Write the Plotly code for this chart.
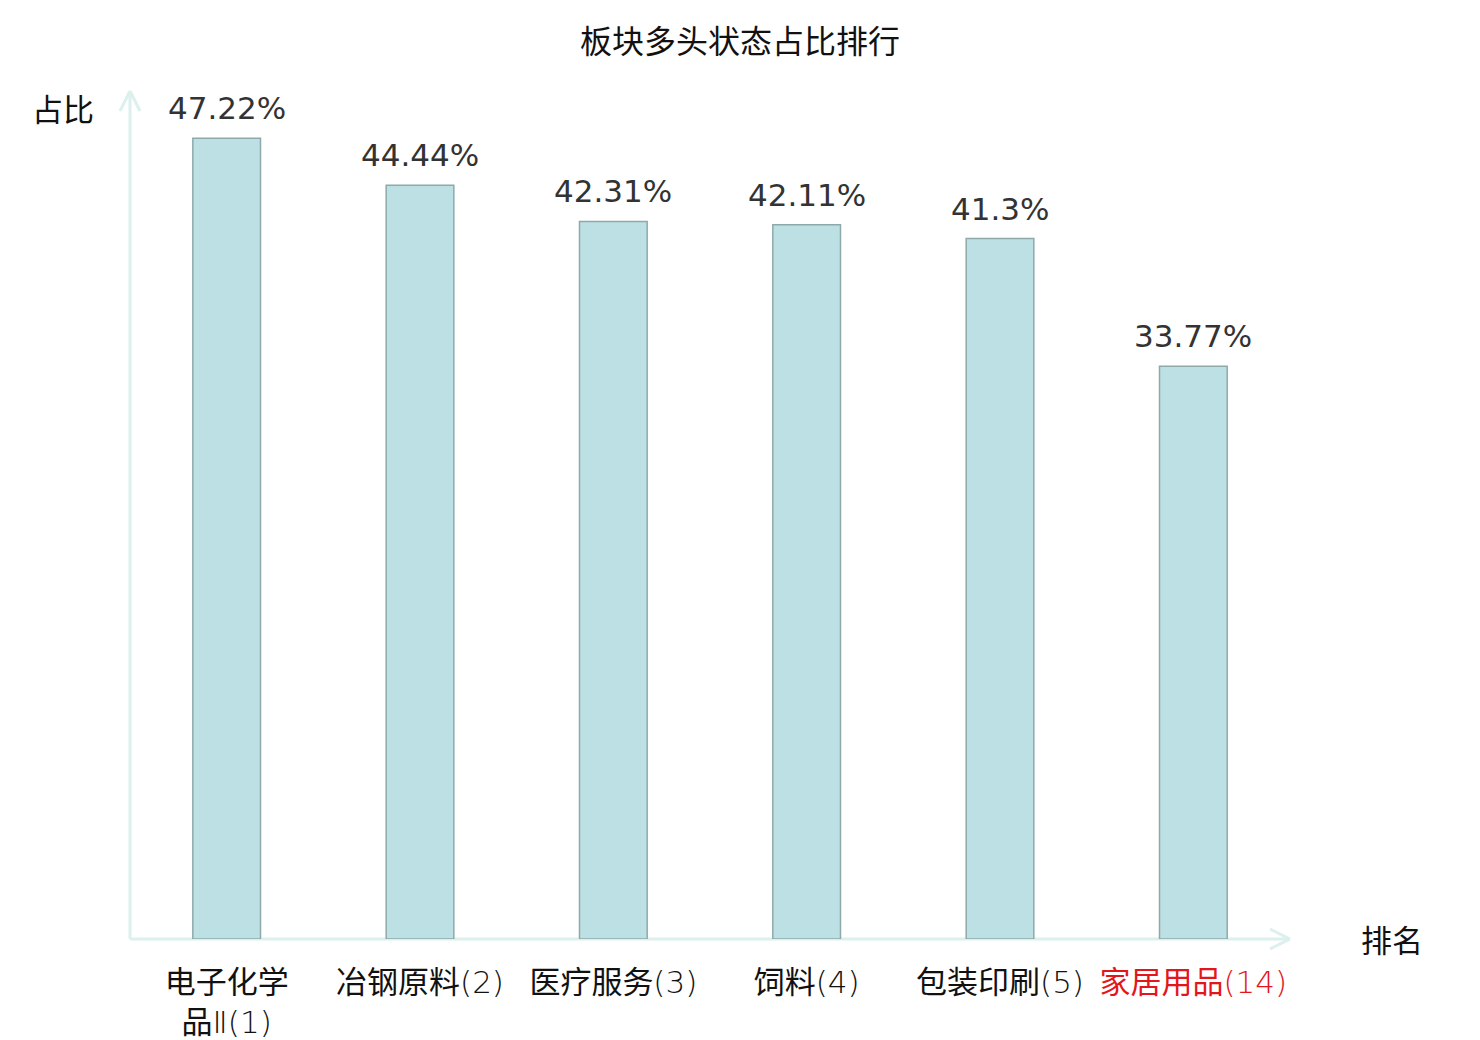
import re
import plotly.graph_objects as go

# sector share in bullish state, top 5 plus own sector
sectors = ['电子化学<br>品Ⅱ', '冶钢原料', '医疗服务', '饲料', '包装印刷', '家居用品']
ranks = [1, 2, 3, 4, 5, 14]
shares = [47.22, 44.44, 42.31, 42.11, 41.3, 33.77]
highlight = '家居用品'

AXIS_COLOR = '#dcf0ee'
FONT = 'DejaVu Sans, Noto Sans CJK SC'

tick_text = []
for name, r in zip(sectors, ranks):
    # chinese characters in regular weight, the rest light
    name_html = re.sub(r'([\u4e00-\u9fff]+)', r'<span style="font-weight:400">\1</span>', name)
    label = '%s(%d)' % (name_html, r)
    if name == highlight:
        label = '<span style="color:#e3161c">%s</span>' % label
    tick_text.append(label)

fig = go.Figure(go.Bar(
    x=list(range(len(sectors))),
    y=shares,
    width=0.35,
    marker=dict(color='#bce0e3', line=dict(color='#8ea9aa', width=1.5)),
    hoverinfo='skip',
))

# value labels above bars
for i, v in enumerate(shares):
    fig.add_annotation(x=i, y=v, text='%s%%' % v, showarrow=False,
                       yanchor='bottom', yshift=10,
                       font=dict(size=31, color='#333333', family=FONT))

# axis lines with open arrow heads
shapes = [
    dict(type='line', xref='paper', yref='paper', x0=0, y0=0, x1=0, y1=1),
    dict(type='line', xref='paper', yref='paper', x0=0, y0=0, x1=1, y1=0),
    dict(type='line', xref='paper', yref='paper', xsizemode='pixel', ysizemode='pixel',
         xanchor=0, yanchor=1, x0=-10, y0=-20, x1=0, y1=0),
    dict(type='line', xref='paper', yref='paper', xsizemode='pixel', ysizemode='pixel',
         xanchor=0, yanchor=1, x0=10, y0=-20, x1=0, y1=0),
    dict(type='line', xref='paper', yref='paper', xsizemode='pixel', ysizemode='pixel',
         xanchor=1, yanchor=0, x0=-20, y0=10, x1=0, y1=0),
    dict(type='line', xref='paper', yref='paper', xsizemode='pixel', ysizemode='pixel',
         xanchor=1, yanchor=0, x0=-20, y0=-10, x1=0, y1=0),
]
for s in shapes:
    s['line'] = dict(color=AXIS_COLOR, width=3)
    s['layer'] = 'below'

fig.add_annotation(xref='paper', yref='paper', x=0, y=1, xanchor='right', yanchor='middle',
                   xshift=-34, yshift=-19, text='占比', showarrow=False,
                   font=dict(size=31, color='#111111', family=FONT))
fig.add_annotation(xref='paper', yref='paper', x=1, y=0, xanchor='left', yanchor='middle',
                   xshift=69, yshift=-2, text='排名', showarrow=False,
                   font=dict(size=31, color='#111111', family=FONT))

fig.update_layout(
    width=1480, height=1040,
    margin=dict(l=122, r=198, t=83, b=109, autoexpand=False),
    paper_bgcolor='white', plot_bgcolor='white',
    showlegend=False,
    shapes=shapes,
    font=dict(family=FONT),
    title=dict(text='板块多头状态占比排行', x=0.5 - 8 / 1480, xanchor='center',
               y=1 - 34 / 1040, yanchor='middle', yref='container',
               font=dict(size=32, color='#111111', family=FONT)),
    xaxis=dict(range=[-0.5, len(sectors) - 0.5], tickmode='array',
               tickvals=list(range(len(sectors))), ticktext=tick_text,
               showgrid=False, zeroline=False, showline=False, ticks='',
               ticklabelstandoff=22, automargin=False,
               tickfont=dict(size=31, color='#111111', family=FONT, weight=300)),
    yaxis=dict(range=[0, 50], showgrid=False, zeroline=False, showline=False,
               showticklabels=False, ticks='', automargin=False),
)

fig.write_html('out.html')
